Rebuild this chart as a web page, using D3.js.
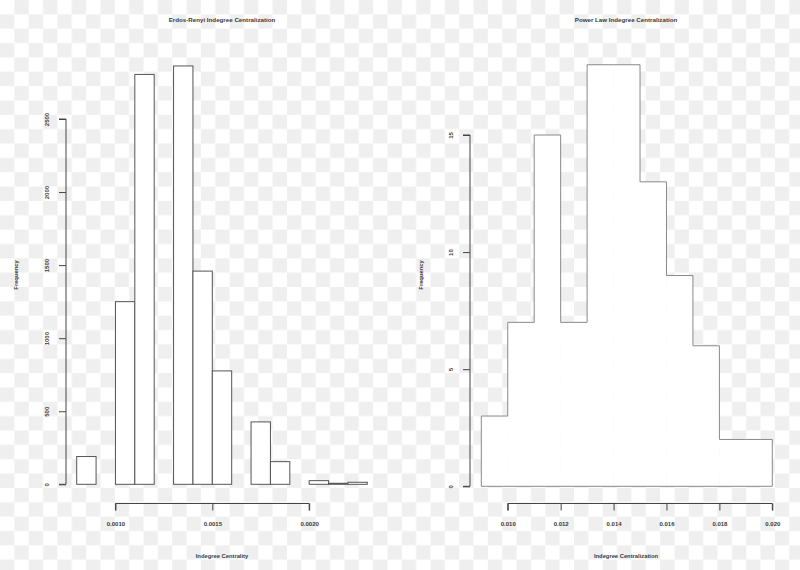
<!DOCTYPE html>
<html><head><meta charset="utf-8">
<script src="https://cdn.jsdelivr.net/npm/d3@7/dist/d3.min.js"></script>
<style>html,body{margin:0;padding:0;background:#fff}svg{display:block}</style>
</head><body><svg id="c" width="800" height="570"></svg>
<script>
// Erdos-Renyi histogram data (bin edges + counts)
const erBinStart = 0.0008;
const erBinWidth = 0.0001;
const erCounts = [190, 0, 1250, 2805, 0, 2863, 1459, 776, 0, 427, 155, 0, 25, 7, 14];
const erYTicks = [0, 500, 1000, 1500, 2000, 2500];
const erXTicks = [0.0010, 0.0015, 0.0020];
const erXTickLabels = ["0.0010", "0.0015", "0.0020"];

// Power law histogram data
const plBinStart = 0.009;
const plBinWidth = 0.001;
const plCounts = [3, 7, 15, 7, 18, 18, 13, 9, 6, 2, 2];
const plYTicks = [0, 5, 10, 15];
const plXTicks = [0.010, 0.012, 0.014, 0.016, 0.018, 0.020];
const plXTickLabels = ["0.010", "0.012", "0.014", "0.016", "0.018", "0.020"];

const titles = ["Erdos-Renyi Indegree Centralization", "Power Law Indegree Centralization"];
const xLabels = ["Indegree Centrality", "Indegree Centralization"];
const yLabel = "Frequency";

const svg = d3.select("#c");
// checkerboard background
const defs = svg.append("defs");
const cs = 14.35;
const pat = defs.append("pattern").attr("id","chk").attr("patternUnits","userSpaceOnUse")
  .attr("width", cs*2).attr("height", cs*2);
pat.append("rect").attr("width", cs*2).attr("height", cs*2).attr("fill","#ffffff");
pat.append("rect").attr("x", cs).attr("y", 0).attr("width", cs).attr("height", cs).attr("fill","#efefef");
pat.append("rect").attr("x", 0).attr("y", cs).attr("width", cs).attr("height", cs).attr("fill","#efefef");
svg.append("rect").attr("width",800).attr("height",570).attr("fill","url(#chk)");

const font = "'Liberation Sans', Arial, sans-serif";
const txt = "#3a3a3a";

function panel(cfg) {
  const g = svg.append("g");
  const n = cfg.counts.length;
  const end = cfg.start + n*cfg.bw;
  const x = d3.scaleLinear().domain([cfg.start, end]).range(cfg.xr);
  const y = d3.scaleLinear().domain([0, cfg.yTicks[cfg.yTicks.length-1]]).range(cfg.yr);
  const bins = cfg.counts.map((c,i)=>({x0: cfg.start + i*cfg.bw, x1: cfg.start + (i+1)*cfg.bw, c}));
  // bars
  g.selectAll("rect.bar").data(bins).join("rect").attr("class","bar")
    .attr("x", d=>x(d.x0)).attr("width", d=>x(d.x1)-x(d.x0))
    .attr("y", d=>y(d.c)).attr("height", d=>y(0)-y(d.c))
    .attr("fill","#fff")
    .attr("stroke", cfg.outlineOnly ? "none" : cfg.barStroke).attr("stroke-width",1);
  if (cfg.outlineOnly) {
    const pts = [[cfg.start, 0]];
    bins.forEach(b=>{ pts.push([b.x0, b.c]); pts.push([b.x1, b.c]); });
    pts.push([end, 0]);
    const line = d3.line().x(d=>x(d[0])).y(d=>y(d[1]));
    g.append("path").attr("d", line(pts) + "Z").attr("fill","none")
      .attr("stroke", cfg.barStroke).attr("stroke-width",1);
  }

  // y axis
  const ya = d3.axisLeft(y).tickValues(cfg.yTicks).tickSize(7).tickFormat(d3.format("d"));
  const yg = g.append("g").attr("transform",`translate(${cfg.yAxisX},0)`).call(ya);
  yg.select(".domain").attr("d", `M-7,${y(cfg.yTicks[0])}H0V${y(cfg.yTicks[cfg.yTicks.length-1])}H-7`)
    .attr("stroke","#444");
  yg.selectAll(".tick line").attr("stroke","#444");
  yg.selectAll(".tick text").attr("transform","rotate(-90)").attr("x",0).attr("y",-cfg.yLabOff)
    .attr("dy","0.35em").attr("text-anchor","middle")
    .attr("font-family",font).attr("font-size",6).attr("font-weight","bold").attr("fill",txt);

  // x axis
  const xa = d3.axisBottom(x).tickValues(cfg.xTicks).tickSize(7).tickFormat((d,i)=>cfg.xTickLabels[i]);
  const xg = g.append("g").attr("transform",`translate(0,${cfg.xAxisY})`).call(xa);
  const xt0 = x(cfg.xTicks[0]), xt1 = x(cfg.xTicks[cfg.xTicks.length-1]);
  xg.select(".domain").attr("d", `M${xt0},7V0H${xt1}V7`).attr("stroke","#444");
  xg.selectAll(".tick line").attr("stroke","#444");
  xg.selectAll(".tick text").attr("y", 20).attr("dy","0.35em")
    .attr("font-family",font).attr("font-size",6).attr("font-weight","bold").attr("fill",txt);
  svg.selectAll(".domain").attr("fill","none");

  // titles & labels
  g.append("text").attr("x",cfg.cx).attr("y",22).attr("text-anchor","middle")
    .attr("font-family",font).attr("font-size",6.2).attr("font-weight","bold").attr("fill",txt).text(cfg.title);
  g.append("text").attr("x",cfg.cx).attr("y",558).attr("text-anchor","middle")
    .attr("font-family",font).attr("font-size",5.8).attr("font-weight","bold").attr("fill",txt).text(cfg.xLabel);
  g.append("text").attr("transform",`translate(${cfg.ylx},275) rotate(-90)`).attr("text-anchor","middle")
    .attr("dy","0.35em")
    .attr("font-family",font).attr("font-size",5.8).attr("font-weight","bold").attr("fill",txt).text(yLabel);
}

panel({counts: erCounts, start: erBinStart, bw: erBinWidth, xr:[76.7, 367.3], yr:[484.3, 119],
  yTicks: erYTicks, xTicks: erXTicks, xTickLabels: erXTickLabels, yAxisX: 66, xAxisY: 503.5,
  yLabOff: 19, barStroke: "#555", outlineOnly: false, cx: 222, ylx: 16, title: titles[0], xLabel: xLabels[0]});
panel({counts: plCounts, start: plBinStart, bw: plBinWidth, xr:[481.3, 772.3], yr:[486.3, 135],
  yTicks: plYTicks, xTicks: plXTicks, xTickLabels: plXTickLabels, yAxisX: 470, xAxisY: 503.5,
  yLabOff: 19, barStroke: "#8a8a8a", outlineOnly: true, cx: 626, ylx: 421, title: titles[1], xLabel: xLabels[1]});
</script></body></html>
